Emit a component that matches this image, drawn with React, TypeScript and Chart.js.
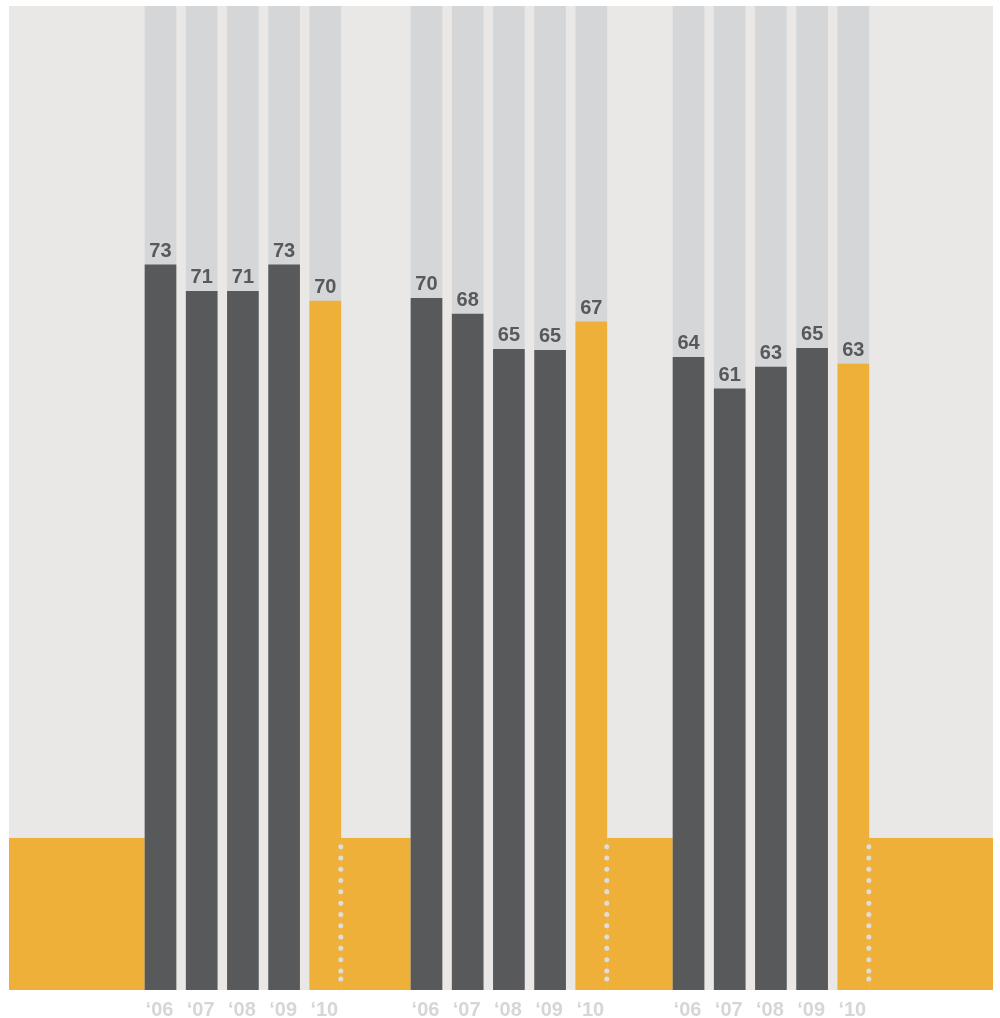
import React, { useEffect, useRef } from "react";
import { Chart, registerables } from "chart.js";

Chart.register(...registerables);

// ---- data ----
const YEAR_LABELS = ["\u201806", "\u201807", "\u201808", "\u201809", "\u201810"];
const GROUP_1 = [73.7, 71.0, 71.0, 73.7, 70.0];
const GROUP_2 = [70.3, 68.7, 65.1, 65.0, 67.9];
const GROUP_3 = [64.3, 61.1, 63.3, 65.2, 63.6];
const GROUPS = [GROUP_1, GROUP_2, GROUP_3];
const SCALE_MAX = 100;
const BAND_VALUE = 15.45;

// ---- layout / style ----
const GROUP_OFFSETS = [0, 6.456, 12.816];
const X_MIN = -3.677;
const X_MAX = 20.206;
const BG = "#e9e8e6";
const TRACK = "#d5d6d8";
const DARK = "#58595b";
const ORANGE = "#efb03a";
const TICK_COLOR = "#d6d6d6";
const DOT_COLOR = "#dddddd";
const FONT = '"Liberation Sans", Arial, Helvetica, sans-serif';

type Pt = { x: number; y: number };

const valuePoints: Pt[] = [];
const trackPoints: Pt[] = [];
const barColors: string[] = [];
const tickTexts: string[] = [];
GROUPS.forEach((vals, g) => {
  vals.forEach((v, i) => {
    const x = GROUP_OFFSETS[g] + i;
    valuePoints.push({ x, y: v });
    trackPoints.push({ x, y: SCALE_MAX });
    barColors.push(i === vals.length - 1 ? ORANGE : DARK);
    tickTexts.push(YEAR_LABELS[i]);
  });
});

function groupEdges(chart: any) {
  const meta = chart.getDatasetMeta(0);
  const edges: { l: number; r: number }[] = [];
  let idx = 0;
  GROUPS.forEach((vals) => {
    const first: any = meta.data[idx].getProps(["x", "width"], true);
    const last: any = meta.data[idx + vals.length - 1].getProps(["x", "width"], true);
    edges.push({ l: first.x - first.width / 2, r: last.x + last.width / 2 });
    idx += vals.length;
  });
  return edges;
}

const decorPlugin = {
  id: "decor",
  beforeDraw(chart: any) {
    const { ctx, chartArea } = chart;
    const { left, top, right, bottom } = chartArea;
    ctx.save();
    ctx.fillStyle = BG;
    ctx.fillRect(left, top, right - left, bottom - top);
    ctx.restore();
  },
  beforeDatasetsDraw(chart: any) {
    const { ctx, chartArea, scales } = chart;
    const yTop = scales.y.getPixelForValue(BAND_VALUE);
    const yBot = scales.y.getPixelForValue(0);
    const edges = groupEdges(chart);
    const bounds: number[] = [chartArea.left];
    edges.forEach((e) => {
      bounds.push(e.l, e.r);
    });
    bounds.push(chartArea.right);
    ctx.save();
    ctx.fillStyle = ORANGE;
    for (let k = 0; k < bounds.length; k += 2) {
      ctx.fillRect(bounds[k], yTop, bounds[k + 1] - bounds[k], yBot - yTop);
    }
    ctx.restore();
  },
  afterDatasetsDraw(chart: any) {
    const { ctx, chartArea, scales } = chart;
    const meta = chart.getDatasetMeta(0);
    const yBand = scales.y.getPixelForValue(BAND_VALUE);
    const yBot = scales.y.getPixelForValue(0);
    ctx.save();
    // value labels
    ctx.font = `bold 20px ${FONT}`;
    ctx.fillStyle = DARK;
    ctx.textAlign = "center";
    ctx.textBaseline = "alphabetic";
    meta.data.forEach((el: any, idx: number) => {
      const p = el.getProps(["x", "y"], true);
      ctx.fillText(String(Math.floor(valuePoints[idx].y)), p.x, p.y - 8);
    });
    // dotted lines at right edge of last bar in each group
    ctx.fillStyle = DOT_COLOR;
    groupEdges(chart).forEach((e) => {
      const dx = e.r;
      const start = yBand + 8.7;
      const end = yBot - 11;
      const step = 11.3;
      for (let y = start; y < end - 5; y += step) {
        ctx.beginPath();
        ctx.arc(dx, y, 2.5, 0, Math.PI * 2);
        ctx.fill();
      }
      ctx.beginPath();
      ctx.arc(dx, end, 2.5, 0, Math.PI * 2);
      ctx.fill();
    });
    // x tick labels
    ctx.font = `bold 20px ${FONT}`;
    ctx.fillStyle = TICK_COLOR;
    ctx.textAlign = "center";
    ctx.textBaseline = "alphabetic";
    valuePoints.forEach((pt, i) => {
      const x = scales.x.getPixelForValue(pt.x);
      ctx.fillText(tickTexts[i], x - 1, chartArea.bottom + 25.5);
    });
    ctx.restore();
  },
};

export default function App() {
  const ref = useRef<HTMLCanvasElement | null>(null);
  useEffect(() => {
    if (!ref.current) return;
    const chart = new Chart(ref.current, {
      type: "bar",
      data: {
        datasets: [
          {
            label: "value",
            data: valuePoints as any,
            backgroundColor: barColors,
            borderWidth: 0,
            barThickness: 31,
            grouped: false,
          } as any,
          {
            label: "track",
            data: trackPoints as any,
            backgroundColor: TRACK,
            borderWidth: 0,
            barThickness: 31,
            grouped: false,
          } as any,
        ],
      },
      options: {
        responsive: false,
        animation: false,
        devicePixelRatio: 1,
        layout: { padding: { left: 9, right: 7, top: 6, bottom: 28 } },
        plugins: {
          legend: { display: false },
          tooltip: { enabled: false },
          title: { display: false },
        },
        scales: {
          x: {
            type: "linear",
            display: false,
            offset: false,
            min: X_MIN,
            max: X_MAX,
            grid: { display: false },
          },
          y: {
            type: "linear",
            display: false,
            min: 0,
            max: SCALE_MAX,
            grid: { display: false },
          },
        },
      } as any,
      plugins: [decorPlugin],
    });
    return () => chart.destroy();
  }, []);
  return (
    <div style={{ position: "absolute", left: 0, top: 0, width: 1000, height: 1018, background: "#ffffff" }}>
      <canvas ref={ref} width={1000} height={1018} style={{ width: 1000, height: 1018, display: "block" }} />
    </div>
  );
}
